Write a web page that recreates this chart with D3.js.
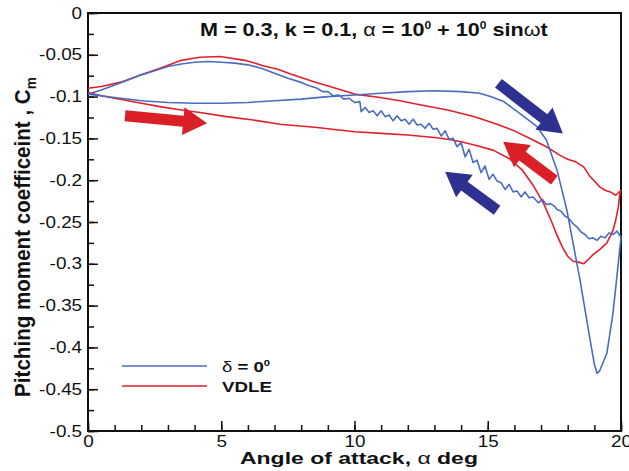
<!DOCTYPE html>
<html>
<head>
<meta charset="utf-8">
<script src="https://cdn.jsdelivr.net/npm/d3@7"></script>
<style>
  body { margin: 0; background: #fff; }
  svg { font-family: "Liberation Sans", Arial, sans-serif; }
</style>
</head>
<body>
<div id="chart"></div>
<script>
// data: delta = 0 (upstroke then downstroke)
var deltaUpAlpha = [0, 1, 2, 3, 4, 5, 6, 7, 8, 9, 10, 11, 12, 13, 14, 14.7, 15.1, 15.6, 16.2, 16.85, 17.2, 17.6, 17.97, 18.2, 18.46, 18.84, 19.0, 19.1, 19.2, 19.47, 19.7, 19.9, 20];
var deltaUpCm = [-0.097, -0.101, -0.105, -0.107, -0.108, -0.108, -0.107, -0.105, -0.103, -0.100, -0.098, -0.096, -0.094, -0.093, -0.094, -0.096, -0.100, -0.106, -0.120, -0.136, -0.152, -0.188, -0.236, -0.275, -0.319, -0.391, -0.420, -0.431, -0.428, -0.407, -0.359, -0.299, -0.268];

var deltaDownAlpha = [20, 19.85, 19.7, 19.55, 19.4, 19.25, 19.1, 18.95, 18.8, 18.65, 18.5, 18.35, 18.2, 18.05, 17.9, 17.75, 17.6,
  17.5, 17.35, 17.2, 17.05, 16.9, 16.7, 16.55, 16.4, 16.25, 16.1, 15.95, 15.8, 15.65, 15.5, 15.35, 15.2, 15.05, 14.9, 14.75, 14.6,
  14.45, 14.3, 14.15, 14.0, 13.85, 13.7, 13.55, 13.4, 13.25, 13.1, 12.95, 12.8, 12.65, 12.5, 12.35, 12.2, 12.05, 11.9, 11.75, 11.6,
  11.45, 11.3, 11.15, 11.0, 10.85, 10.7, 10.55, 10.4, 10.25, 10.2,
  10.0, 9.8, 9.6, 9.4, 9.2, 9.0, 8.8, 8.6, 8.3, 8.0, 7.5, 7.0, 6.5, 6.0, 5.5, 5.0, 4.5, 4.0, 3.5, 3.0, 2.5, 2.0, 1.5, 1.0, 0.5, 0];
var deltaDownCm = [-0.268, -0.261, -0.265, -0.263, -0.269, -0.267, -0.272, -0.269, -0.270, -0.265, -0.262, -0.256, -0.252, -0.246, -0.243, -0.237, -0.235,
  -0.231, -0.228, -0.229, -0.223, -0.227, -0.220, -0.221, -0.214, -0.220, -0.213, -0.214, -0.205, -0.211, -0.203, -0.201, -0.193, -0.199, -0.183, -0.191, -0.176,
  -0.179, -0.163, -0.172, -0.155, -0.160, -0.150, -0.151, -0.141, -0.147, -0.138, -0.139, -0.132, -0.138, -0.133, -0.134, -0.127, -0.133, -0.127, -0.129, -0.123,
  -0.129, -0.122, -0.124, -0.117, -0.123, -0.117, -0.119, -0.113, -0.118, -0.106,
  -0.107, -0.102, -0.103, -0.098, -0.099, -0.094, -0.094, -0.090, -0.087, -0.083, -0.078, -0.072, -0.066, -0.062, -0.060, -0.059, -0.058, -0.059, -0.061, -0.064, -0.069, -0.074, -0.080, -0.086, -0.092, -0.097];

// data: VDLE
var vdleUpAlpha = [0, 0.5, 1, 1.5, 2, 2.7, 3.5, 4.2, 5.2, 6.2, 7.2, 8.6, 10, 11, 12, 13, 13.5, 14, 14.5, 15.2, 15.8, 16.3, 16.7, 17.1, 17.4, 17.6, 17.8, 18.0, 18.2, 18.4, 18.6, 18.8, 18.95, 19.2, 19.47, 19.7, 19.8, 19.9, 19.96, 20];
var vdleUpCm = [-0.095, -0.099, -0.102, -0.105, -0.108, -0.112, -0.116, -0.119, -0.124, -0.128, -0.133, -0.137, -0.142, -0.144, -0.146, -0.149, -0.151, -0.154, -0.158, -0.164, -0.174, -0.188, -0.206, -0.228, -0.250, -0.266, -0.280, -0.291, -0.297, -0.298, -0.300, -0.294, -0.289, -0.283, -0.275, -0.260, -0.248, -0.232, -0.216, -0.212];

var vdleDownAlpha = [20, 19.8, 19.6, 19.4, 19.2, 19.0, 18.8, 18.6, 18.3, 18.0, 17.7, 17.2, 16.7, 16.0, 15.35, 14.5, 13.5, 12.5, 11.7, 10.96, 10, 9.7, 9.2, 8.45, 7.6, 7.1, 6.57, 5.95, 4.95, 4.2, 3.45, 2.7, 2.0, 1.2, 0.5, 0];
var vdleDownCm = [-0.212, -0.218, -0.214, -0.212, -0.208, -0.201, -0.194, -0.184, -0.178, -0.175, -0.170, -0.160, -0.152, -0.141, -0.133, -0.124, -0.116, -0.110, -0.105, -0.101, -0.097, -0.094, -0.089, -0.082, -0.073, -0.067, -0.063, -0.057, -0.052, -0.053, -0.057, -0.066, -0.074, -0.083, -0.088, -0.090];

var xTicks = [0, 5, 10, 15, 20];
var yTicks = [0, -0.05, -0.1, -0.15, -0.2, -0.25, -0.3, -0.35, -0.4, -0.45, -0.5];

// arrows: [tail alpha, tail Cm, tip alpha, tip Cm]
var redArrows = [[1.39, -0.123, 4.47, -0.132], [17.5, -0.200, 15.58, -0.154]];
var blueArrows = [[15.4, -0.084, 17.82, -0.144], [15.35, -0.236, 13.4, -0.190]];

var width = 629;
var height = 471;
var padding = {'top': 13, 'right': 8, 'bottom': 40, 'left': 88};
var stretch = 1.18; // the reference type is drawn wide

var svg = d3.select('#chart')
    .append('svg')
    .attr('width', width)
    .attr('height', height);

var x = d3.scaleLinear().domain([0, 20]).range([padding.left, width - padding.right]);
var y = d3.scaleLinear().domain([-0.5, 0]).range([height - padding.bottom, padding.top]);

//axes with inward ticks
var xMajor = d3.axisBottom(x).tickValues(xTicks).tickSize(-10).tickPadding(5).tickFormat(d3.format('d'));
var xMinor = d3.axisBottom(x).tickValues(d3.range(0, 21, 1)).tickSize(-6).tickFormat('');
var yMajor = d3.axisLeft(y).tickValues(yTicks).tickSize(-10).tickPadding(5).tickFormat(function(d){ return String(d); });
var yMinor = d3.axisLeft(y).tickValues(d3.range(-0.5, 0.001, 0.025)).tickSize(-6).tickFormat('');

function styleAxis(g){
    g.select('.domain').remove();
    g.selectAll('line').attr('stroke', '#111').attr('stroke-width', 1.5);
    g.selectAll('text')
        .attr('fill', '#111')
        .style('font-size', '16px')
        .attr('transform', 'scale(' + stretch + ',1)');
}

svg.append('g').attr('transform', 'translate(0,' + (height - padding.bottom) + ')').call(xMinor).call(styleAxis);
svg.append('g').attr('transform', 'translate(0,' + (height - padding.bottom) + ')').call(xMajor).call(styleAxis);
svg.append('g').attr('transform', 'translate(' + padding.left + ',0)').call(yMinor).call(styleAxis);
svg.append('g').attr('transform', 'translate(' + padding.left + ',0)').call(yMajor).call(styleAxis);

//frame
svg.append('rect')
    .attr('x', x(0))
    .attr('y', y(0))
    .attr('width', x(20) - x(0))
    .attr('height', y(-0.5) - y(0))
    .attr('fill', 'none')
    .attr('stroke', '#111')
    .attr('stroke-width', 2);

//curves
var line = d3.line()
    .x(function(d){ return x(d[0]); })
    .y(function(d){ return y(d[1]); });

function pairs(a, c){
    return a.map(function(v, i){ return [v, c[i]]; });
}

var deltaPts = pairs(deltaUpAlpha, deltaUpCm).concat(pairs(deltaDownAlpha, deltaDownCm));
var vdlePts = pairs(vdleUpAlpha, vdleUpCm).concat(pairs(vdleDownAlpha, vdleDownCm));

svg.append('path')
    .datum(vdlePts)
    .attr('d', line)
    .attr('fill', 'none')
    .attr('stroke', '#e3202a')
    .attr('stroke-width', 1.6)
    .attr('stroke-linejoin', 'round');

svg.append('path')
    .datum(deltaPts)
    .attr('d', line)
    .attr('fill', 'none')
    .attr('stroke', '#4a6cc0')
    .attr('stroke-width', 1.6)
    .attr('stroke-linejoin', 'round');

//block arrows
function arrow(a, color, shaft, head, headLen){
    var x0 = x(a[0]), y0 = y(a[1]), x1 = x(a[2]), y1 = y(a[3]);
    var len = Math.sqrt((x1 - x0) * (x1 - x0) + (y1 - y0) * (y1 - y0));
    var ux = (x1 - x0) / len, uy = (y1 - y0) / len;
    var nx = -uy, ny = ux;
    var bx = x1 - ux * headLen, by = y1 - uy * headLen;
    var pts = [
        [x0 + nx * shaft / 2, y0 + ny * shaft / 2],
        [bx + nx * shaft / 2, by + ny * shaft / 2],
        [bx + nx * head / 2, by + ny * head / 2],
        [x1, y1],
        [bx - nx * head / 2, by - ny * head / 2],
        [bx - nx * shaft / 2, by - ny * shaft / 2],
        [x0 - nx * shaft / 2, y0 - ny * shaft / 2]
    ];
    svg.append('polygon')
        .attr('points', pts.map(function(p){ return p.join(','); }).join(' '))
        .attr('fill', color);
}

redArrows.forEach(function(a){ arrow(a, '#db1f26', 11, 28, 24); });
blueArrows.forEach(function(a){ arrow(a, '#2e3190', 11, 28, 24); });

//stretch a text group horizontally so it spans a given width
function fit(g, left, top, targetWidth){
    var w = g.node().getBBox().width;
    g.attr('transform', 'translate(' + left + ',' + top + ') scale(' + (targetWidth / w) + ',1)');
}

//title
var titleG = svg.append('g');
var title = titleG.append('text')
    .style('font-size', '18px')
    .style('font-weight', 'bold')
    .attr('fill', '#111');
title.append('tspan').text('M = 0.3, k = 0.1, ');
title.append('tspan').style('font-weight', 'normal').text('α');
title.append('tspan').text(' = 10');
title.append('tspan').attr('dy', -7).style('font-size', '10px').text('0');
title.append('tspan').attr('dy', 7).text(' + 10');
title.append('tspan').attr('dy', -7).style('font-size', '10px').text('0');
title.append('tspan').attr('dy', 7).text(' sin');
title.append('tspan').style('font-weight', 'normal').text('ω');
title.append('tspan').text('t');
fit(titleG, 200, 36, 348);

//axis titles
var xTitleG = svg.append('g');
var xTitle = xTitleG.append('text')
    .style('font-size', '17px')
    .style('font-weight', 'bold')
    .attr('fill', '#111');
xTitle.append('tspan').text('Angle of attack, ');
xTitle.append('tspan').style('font-weight', 'normal').text('α');
xTitle.append('tspan').text(' deg');
fit(xTitleG, 240, 464, 238);

var yTitle = svg.append('text')
    .attr('text-anchor', 'middle')
    .style('font-size', '18px')
    .style('font-weight', 'bold')
    .attr('fill', '#111');
yTitle.append('tspan').text('Pitching moment coefficeint , C');
yTitle.append('tspan').attr('dy', 5).style('font-size', '12px').text('m');
var yLen = yTitle.node().getBBox().width;
yTitle.attr('transform', 'translate(30,237) scale(1.2,1) rotate(-90) scale(' + (320 / yLen) + ',1)');

//legend
var legend = [['δ = 0', '#4a6cc0'], ['VDLE', '#e3202a']];
legend.forEach(function(l, i){
    var ly = 366 + i * 20;
    svg.append('line')
        .attr('x1', 122).attr('x2', 207)
        .attr('y1', ly).attr('y2', ly)
        .attr('stroke', l[1])
        .attr('stroke-width', 1.6);
    var g = svg.append('g');
    var t = g.append('text')
        .style('font-size', '15px')
        .style('font-weight', 'bold')
        .attr('fill', '#111');
    if (i === 0) {
        t.append('tspan').style('font-weight', 'normal').text('δ');
        t.append('tspan').text(' = 0');
        t.append('tspan').attr('dy', -6).style('font-size', '9px').text('0');
        fit(g, 222, ly + 6, 48);
    } else {
        t.text(l[0]);
        fit(g, 222, ly + 6, 50);
    }
});
</script>
</body>
</html>
